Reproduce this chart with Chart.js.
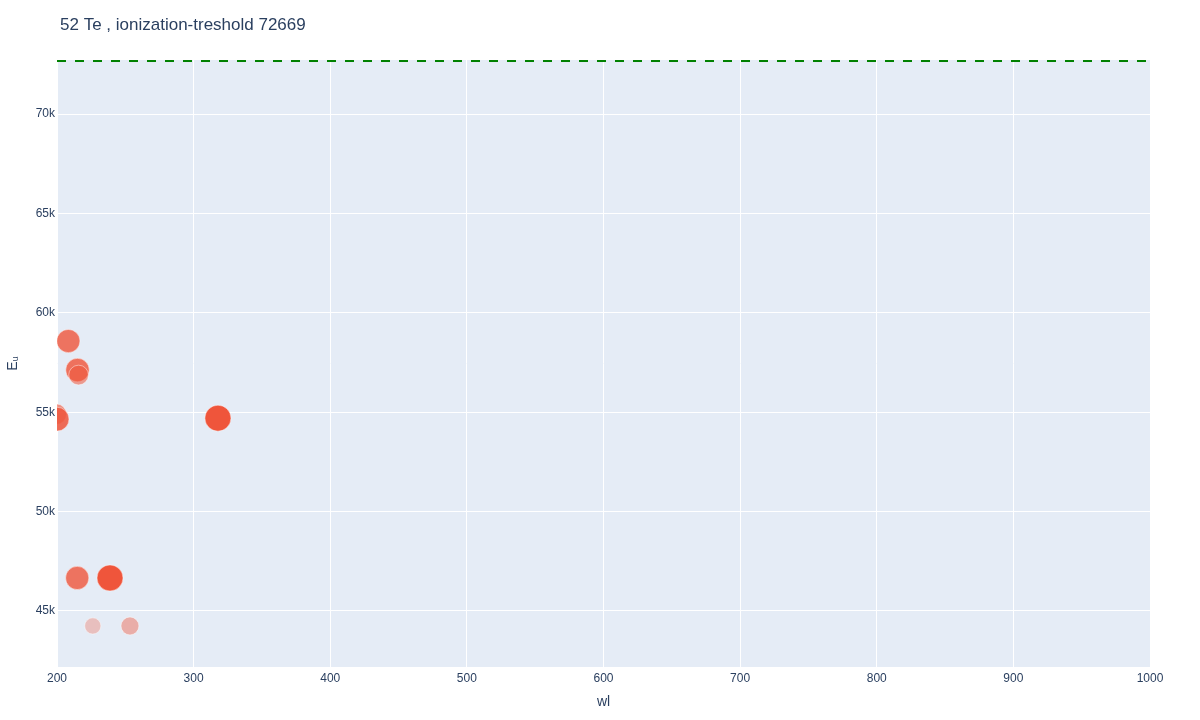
<!DOCTYPE html>
<html>
<head>
<meta charset="utf-8">
<title>52 Te , ionization-treshold 72669</title>
<script src="https://cdn.jsdelivr.net/npm/chart.js@4.4.1/dist/chart.umd.min.js"></script>
<style>
  html, body { margin: 0; padding: 0; background: #fff; }
  #wrap { width: 1200px; height: 720px; }
</style>
</head>
<body>
<div id="wrap"><canvas id="levels"></canvas></div>
<script>
// Lines: wavelength (nm), upper level energy (cm-1), relative intensity
const wavelengths = [208.3, 215, 215.8, 199.5, 200, 317.8, 214.8, 238.8, 226.2, 253.4];
const upperEnergies = [58580, 57120, 56870, 54900, 54650, 54700, 46660, 46660, 44245, 44245];
const intensities = [0.8, 0.82, 0.55, 0.6, 0.85, 1.0, 0.8, 1.0, 0.3, 0.42];

const ionizationThreshold = 72669;
const xTicks = [200, 300, 400, 500, 600, 700, 800, 900, 1000];
const yTicks = [45000, 50000, 55000, 60000, 65000, 70000];

const titleText = '52 Te , ionization-treshold 72669';
const fontFamily = '"Liberation Sans", Arial, sans-serif';
const textColor = '#2a3f5f';

const points = wavelengths.map((wl, i) => ({ x: wl, y: upperEnergies[i] }));

// plot background + titles, drawn by hand like plotly does
const decorPlugin = {
    id: 'decor',
    beforeDraw(chart) {
        const { ctx, chartArea: a } = chart;
        ctx.save();
        ctx.fillStyle = '#E5ECF6';
        ctx.fillRect(a.left, a.top, a.right - a.left, a.bottom - a.top);
        ctx.restore();
    },
    afterDraw(chart) {
        const { ctx, chartArea: a } = chart;
        ctx.save();
        ctx.fillStyle = textColor;
        ctx.textBaseline = 'middle';

        ctx.font = '17px ' + fontFamily;
        ctx.textAlign = 'left';
        ctx.fillText(titleText, 60, 25);

        ctx.font = '14px ' + fontFamily;
        ctx.textAlign = 'center';
        ctx.fillText('wl', (a.left + a.right) / 2, 702);

        // E with subscript u, rotated
        ctx.translate(13, (a.top + a.bottom) / 2);
        ctx.rotate(-Math.PI / 2);
        ctx.font = '14px ' + fontFamily;
        const wE = ctx.measureText('E').width;
        ctx.font = '9px ' + fontFamily;
        const wU = ctx.measureText('u').width;
        const start = -(wE + wU) / 2;
        ctx.textAlign = 'left';
        ctx.font = '14px ' + fontFamily;
        ctx.fillText('E', start, 0);
        ctx.font = '9px ' + fontFamily;
        ctx.fillText('u', start + wE, 3);
        ctx.restore();
    }
};

function keepTicks(list) {
    return function (scale) {
        scale.ticks = list.map(v => ({ value: v }));
    };
}

new Chart(document.getElementById('levels'), {
    type: 'scatter',
    data: {
        datasets: [{
            label: 'lines',
            data: points,
            pointRadius: ctx => 6 + 7 * intensities[ctx.dataIndex],
            pointHoverRadius: ctx => 6 + 7 * intensities[ctx.dataIndex],
            pointBackgroundColor: ctx => 'rgba(239, 85, 59, ' + intensities[ctx.dataIndex] + ')',
            pointBorderColor: 'rgba(255, 255, 255, 0.45)',
            pointBorderWidth: 1,
            showLine: false,
            clip: 0
        }, {
            type: 'line',
            label: 'ionization threshold',
            data: [{ x: 200, y: ionizationThreshold }, { x: 1000, y: ionizationThreshold }],
            borderColor: 'rgb(0, 128, 0)',
            borderWidth: 2,
            borderDash: [9, 9],
            pointRadius: 0,
            pointHoverRadius: 0,
            fill: false,
            clip: false
        }]
    },
    options: {
        responsive: true,
        maintainAspectRatio: false,
        animation: false,
        events: [],
        layout: { padding: { left: 0, right: 50, top: 60, bottom: 0 } },
        plugins: {
            legend: { display: false },
            tooltip: { enabled: false }
        },
        scales: {
            x: {
                type: 'linear',
                min: 200,
                max: 1000,
                afterBuildTicks: keepTicks(xTicks),
                afterFit(scale) { scale.height = 53; },
                border: { display: false },
                grid: { color: '#ffffff', lineWidth: 1, drawTicks: false },
                ticks: {
                    padding: 4,
                    color: textColor,
                    font: { family: fontFamily, size: 12 },
                    callback: v => String(v)
                }
            },
            y: {
                type: 'linear',
                min: 42180,
                max: 72720,
                afterBuildTicks: keepTicks(yTicks),
                afterFit(scale) { scale.width = 57; },
                border: { display: false },
                grid: { color: '#ffffff', lineWidth: 1, drawTicks: false },
                ticks: {
                    padding: 2,
                    color: textColor,
                    font: { family: fontFamily, size: 12 },
                    callback: v => (v / 1000) + 'k'
                }
            }
        }
    },
    plugins: [decorPlugin]
});
</script>
</body>
</html>
